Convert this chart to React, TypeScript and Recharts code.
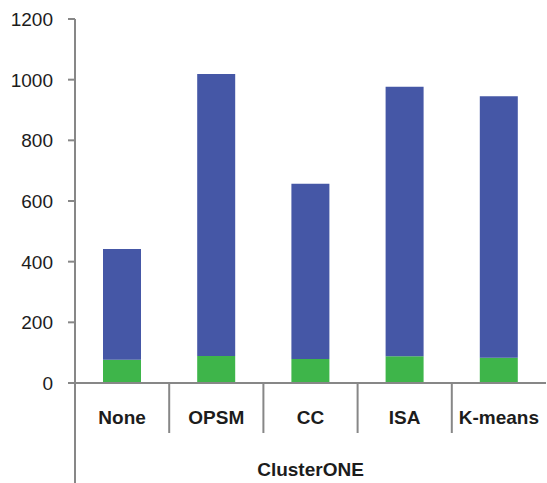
import { Bar, BarChart, XAxis, YAxis } from "recharts";

const categories = ["None", "OPSM", "CC", "ISA", "K-means"];
const greenValues = [77, 89, 79, 88, 83];
const blueValues = [365, 930, 578, 889, 862];
const yTicks = [0, 200, 400, 600, 800, 1000, 1200];
const groupLabel = "ClusterONE";

const data = categories.map((name, i) => ({
  name,
  green: greenValues[i],
  blue: blueValues[i],
}));

const AXIS = "#878787";
const TEXT = "#1c1c1c";
const FONT = '"Liberation Sans", Arial, sans-serif';

function CategoryTick(props: any) {
  const { x, y, payload, index } = props;
  const half = payload?.offset ?? 47;
  const left = x - half;
  return (
    <g>
      {index > 0 && (
        <line x1={left} x2={left} y1={y} y2={y + 50} stroke={AXIS} strokeWidth={2} />
      )}
      {index === 0 && (
        <line x1={left} x2={left} y1={y} y2={y + 100} stroke={AXIS} strokeWidth={2} />
      )}
      <text
        x={x}
        y={y + 41}
        textAnchor="middle"
        fill={TEXT}
        fontFamily={FONT}
        fontSize={19}
        fontWeight="bold"
      >
        {payload.value}
      </text>
    </g>
  );
}

function ValueTick(props: any) {
  const { y, payload } = props;
  return (
    <text
      x={53}
      y={y + 7}
      textAnchor="end"
      fill={TEXT}
      fontFamily={FONT}
      fontSize={19}
    >
      {payload.value}
    </text>
  );
}

function GroupLabel(props: any) {
  const vb = props.viewBox ?? { x: 75, y: 383, width: 471 };
  return (
    <text
      x={vb.x + vb.width / 2}
      y={vb.y + 93}
      textAnchor="middle"
      fill={TEXT}
      fontFamily={FONT}
      fontSize={19}
      fontWeight="bold"
    >
      {groupLabel}
    </text>
  );
}

export default function App() {
  return (
    <div style={{ position: "absolute", left: 0, top: 0, width: 547, height: 483, background: "#fff" }}>
      <BarChart
        width={547}
        height={483}
        data={data}
        margin={{ top: 19, right: 1, left: 0, bottom: 0 }}
      >
        <XAxis
          dataKey="name"
          height={100}
          axisLine={{ stroke: AXIS, strokeWidth: 2 }}
          tickLine={false}
          tickSize={0}
          tickMargin={0}
          interval={0}
          tick={<CategoryTick />}
          label={<GroupLabel />}
        />
        <YAxis
          width={75}
          domain={[0, 1200]}
          ticks={yTicks}
          interval={0}
          axisLine={{ stroke: AXIS, strokeWidth: 2 }}
          tickLine={{ stroke: AXIS, strokeWidth: 2 }}
          tickSize={7}
          tick={<ValueTick />}
        />
        <Bar dataKey="green" stackId="a" fill="#3eb54a" barSize={38} isAnimationActive={false} />
        <Bar dataKey="blue" stackId="a" fill="#4557a6" barSize={38} isAnimationActive={false} />
      </BarChart>
    </div>
  );
}
